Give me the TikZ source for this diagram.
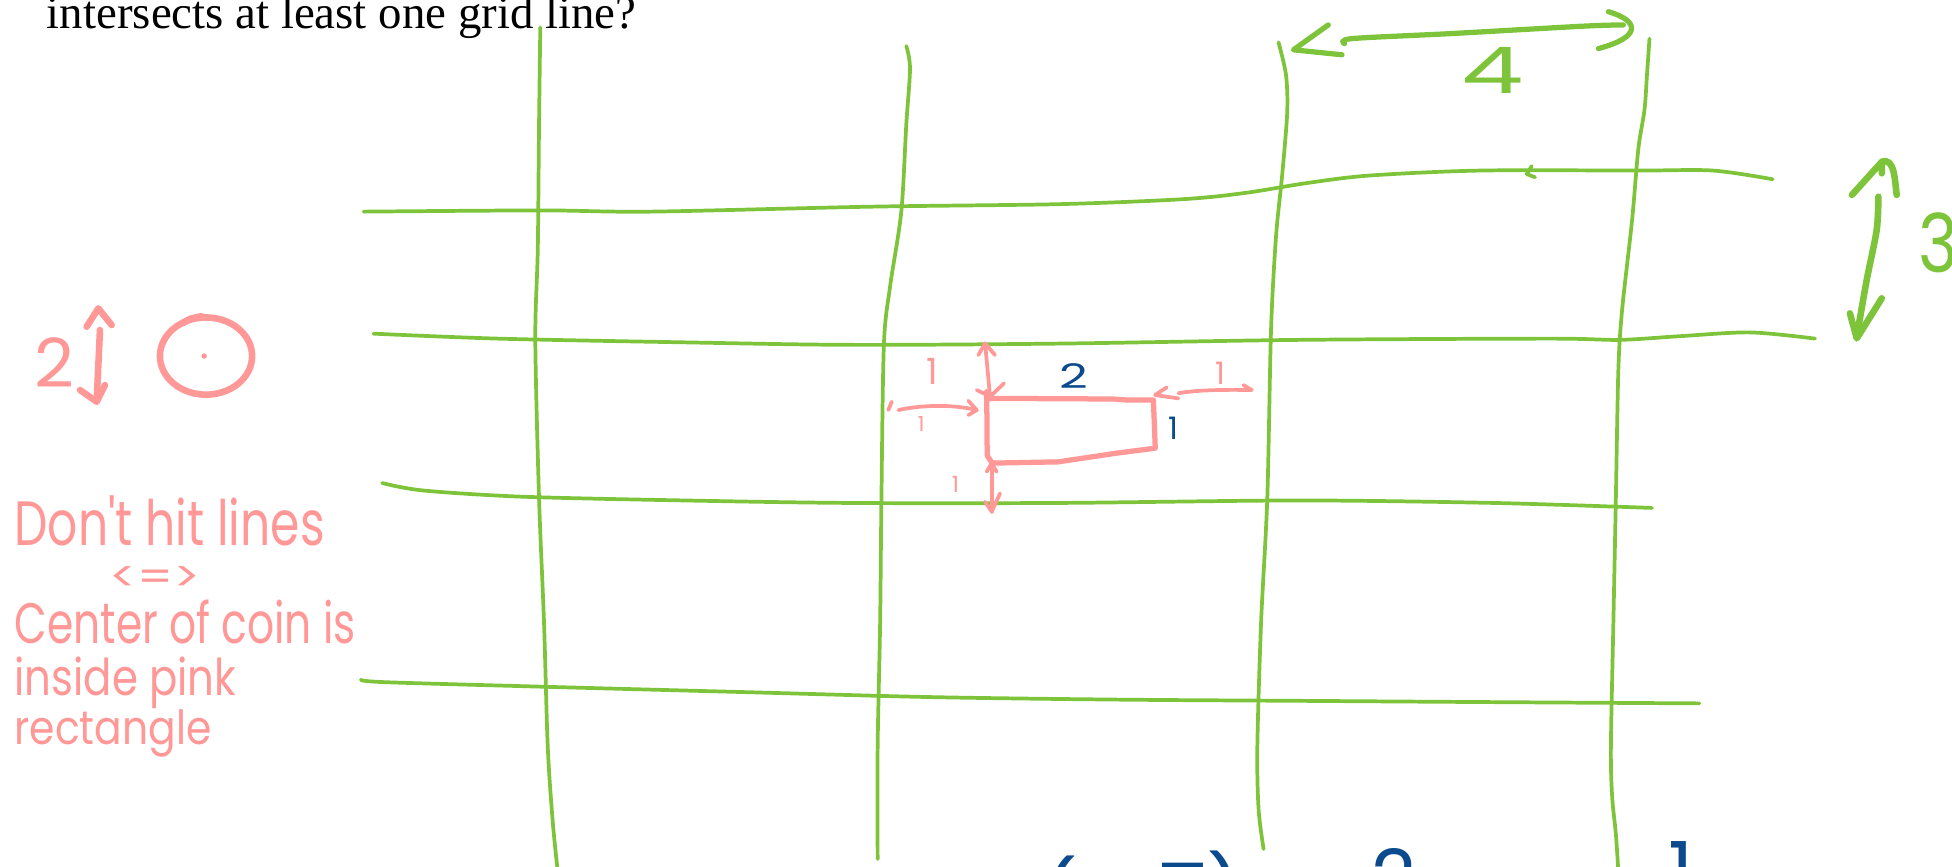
\documentclass[tikz,border=0pt]{standalone}
\usepackage{fontspec}
\usepackage{graphicx}
\newfontfamily\handfont{Poppins}
\newfontfamily\printfont{Liberation Serif}
\definecolor{gr}{HTML}{7DC43A}
\definecolor{pk}{HTML}{FF9896}
\definecolor{bl}{HTML}{0B4A8C}
\newcommand{\hw}[3]{\resizebox{#1cm}{#2cm}{\handfont #3}}
\newcommand{\hh}[2]{\resizebox{!}{#1cm}{\handfont #2}}
\begin{document}
\begin{tikzpicture}[x=0.01cm,y=-0.01cm,line cap=round,line join=round,
  gridline/.style={draw=gr,line width=0.85pt},
  garrow/.style={draw=gr,line width=1.2pt},
  gbig/.style={draw=gr,line width=1.5pt},
  parrow/.style={draw=pk,line width=0.85pt},
  pthick/.style={draw=pk,line width=1.2pt},
  pcoin/.style={draw=pk,line width=1.5pt},
  lbl/.style={inner sep=0pt,anchor=base west},
  lblc/.style={inner sep=0pt,anchor=base},
  cut/.style={inner sep=0pt,anchor=north,text=bl,font=\handfont\fontsize{18}{20}\selectfont}]
\useasboundingbox (0,0) rectangle (1568,696);
\clip (0,0) rectangle (1568,696);
% question text
\node[lbl] (question) at (37,23) {\resizebox{4.73cm}{!}{\printfont intersects at least one grid line?}};
% grid: vertical lines
\draw[gridline] plot[smooth] coordinates {(434,22) (433,100) (432,200) (430,273) (433,400) (437,500) (440,600) (444,660) (448,700)};
\draw[gridline] plot[smooth] coordinates {(728,37) (731,55) (728,100) (724,170) (715,230) (710,277) (708,404) (707,500) (705,600) (705,690)};
\draw[gridline] plot[smooth] coordinates {(1027,34) (1033,60) (1034,90) (1030,140) (1025,190) (1021,265) (1018,400) (1013,500) (1010,600) (1011,650) (1015,682)};
\draw[gridline] plot[smooth] coordinates {(1325,31) (1323,60) (1321,88) (1316,120) (1311,177) (1303,249) (1300,297) (1298,400) (1296,500) (1294,600) (1295,640) (1298,670) (1300,700)};
% grid: horizontal lines
\draw[gridline] plot[smooth] coordinates {(292,170) (435,169) (522,170) (700,166) (850,164) (950,160) (1000,155) (1050,147) (1100,141) (1189,137) (1316,137) (1376,137) (1424,144)};
\draw[gridline] (1230.4,133.4) -- (1226.4,139.8) -- (1233.1,142.4);
\draw[gridline] plot[smooth] coordinates {(300,268) (400,272) (550,275) (683,277) (850,276) (1044,273) (1245,272) (1301,273) (1350,270) (1406,267) (1458,272)};
\draw[gridline] plot[smooth] coordinates {(307,388) (340,394) (420,399) (550,402) (683,404) (850,404) (1044,402) (1200,404) (1327,408)};
\draw[gridline] plot[smooth] coordinates {(290,546) (310,548) (450,552) (600,556) (750,560) (900,562) (1050,563) (1200,564) (1365,565)};
% width arrow "4"
\draw[garrow] plot[smooth] coordinates {(1080,35) (1086,31) (1165,27) (1272,21) (1304,20)};
\draw[garrow] (1292,9.4) .. controls (1318,17) and (1318,30) .. (1284,39);
\draw[garrow] (1067,20) -- (1039,40) -- (1078,44);
\node[lbl,text=gr] (four) at (1173,75) {\hw{0.50}{0.37}{4}};
% height arrow "3"
\draw[gbig] (1487.6,156.6) -- (1511.6,130) -- (1511.6,139.2);
\draw[gbig] (1511.6,130) .. controls (1522,126) and (1522,145) .. (1523.6,156.6);
\draw[gbig] plot[smooth] coordinates {(1508.9,158) (1507.5,184.8) (1499.5,224.9) (1491.5,270.5)};
\draw[gbig] (1486,251.7) -- (1491.5,271.8) -- (1511.6,239.6);
\node[lbl,text=gr] (three) at (1540,219) {\hw{0.32}{0.48}{3}};
% coin
\draw[pcoin] (165.5,286) ellipse [x radius=0.37cm,y radius=0.31cm];
\draw[pcoin] (147,259.5) .. controls (152,256) .. (162,254);
\fill[pk] (164,286) circle [radius=0.022cm];
\draw[pcoin] (80.3,265.1) -- (77.7,321.3);
\draw[pcoin] (69.6,262.4) -- (79,247.7) -- (89.7,261.1);
\draw[pcoin] (64.3,313.3) -- (77.7,322.7) -- (84.3,309.3);
\node[lbl,text=pk] (coin2) at (27,311) {\hw{0.32}{0.40}{2}};
% explanation
\node[lbl,text=pk] (dont) at (11,438) {\hw{2.49}{0.40}{Don't hit lines}};
\node[inner sep=0pt,text=pk] (iff) at (124.5,465) {\hw{0.73}{0.20}{<=>}};
\node[lbl,text=pk] (center) at (11,517) {\hw{2.74}{0.35}{Center of coin is}};
\node[lbl,text=pk] (inside) at (11,559) {\hw{1.78}{0.31}{inside pink}};
\node[lbl,text=pk] (rectangle) at (11,598) {\hw{1.58}{0.28}{rectangle}};
% pink rectangle of centres
\draw[pthick] (792.6,314.6) -- (793,366) -- (797,372) -- (850,371) -- (897,364) -- (928,360) -- (926.5,321.3) -- (905,321.3) -- (894,320.5) -- (795,320);
\draw[parrow] (791.3,275.8) -- (795.3,318.6);
\draw[parrow] (785.9,285.2) -- (791.3,275.8) -- (799.3,285.2);
\draw[parrow] (784.6,313.3) -- (795.3,318.6) -- (806.5,307.9);
\draw[parrow] (796.6,372.2) -- (796.6,411);
\draw[parrow] (792.6,378.9) -- (796.6,372.2) -- (800.6,378.9);
\draw[parrow] (791.3,403) -- (796.6,411) -- (803.3,396.3);
\draw[parrow] (721.6,329.4) .. controls (736,326) and (763,324) .. (784.6,329.4);
\draw[parrow] (777.9,321.9) -- (784.6,329.4) -- (777.9,333.4);
\draw[parrow] (713.6,329.4) -- (716.3,322.7);
\draw[parrow] (946.6,315.8) .. controls (964,313) and (985,313) .. (1005.5,313.3);
\draw[parrow] (1005.5,313.3) -- (998.8,309.3);
\draw[parrow] (937.2,311.2) -- (927.8,317.3) -- (946.6,320);
\node[lblc,text=pk] (oneA) at (748.5,309) {\hh{0.21}{1}};
\node[lblc,text=pk] (oneB) at (740,347) {\hh{0.12}{1}};
\node[lblc,text=pk] (oneC) at (767.5,396) {\hh{0.13}{1}};
\node[lblc,text=pk] (oneD) at (980,309) {\hh{0.18}{1}};
\node[lbl,text=bl] (two) at (850,312) {\hw{0.23}{0.20}{2}};
\node[lblc,text=bl] (oneE) at (943,353) {\hh{0.18}{1}};
% cut-off line at the bottom
\node[cut] (b1) at (851,687) {(};
\node[cut] (b2) at (950,693) {=};
\node[cut] (b3) at (984,683) {)};
\node[cut] (b4) at (1120,681) {2};
\node[cut] (b5) at (1350,675) {1};
\end{tikzpicture}
\end{document}
